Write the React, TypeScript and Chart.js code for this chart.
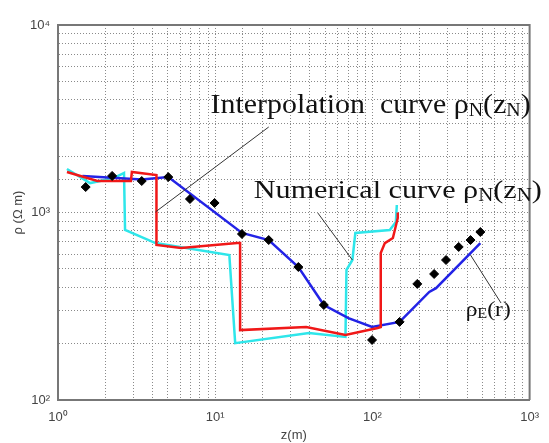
import React, { useEffect, useRef } from 'react';
import { Chart, registerables } from 'chart.js';

Chart.register(...registerables);

// ---- data (z in m, rho in Ohm m) ----
const numericalX = [1.14, 1.6, 2.27, 2.63, 2.67, 4.17, 12.3, 13.4, 39.5, 67.4, 68.4, 74.6, 77.9, 129, 141, 143];
const numericalY = [1706, 1435, 1528, 1626, 807, 687, 593, 201, 228, 217, 494, 558, 778, 807, 889, 1097];

const interpX = [1.14, 1.78, 2.91, 2.95, 4.23, 4.23, 6.07, 13.8, 14.4, 14.4, 37.9, 67.4, 108, 113, 113, 120, 135, 145, 145];
const interpY = [1644, 1472, 1472, 1644, 1585, 671, 647, 687, 687, 236, 245, 222, 242, 245, 608, 687, 731, 935, 1000];

const apparentX = [1.43, 3.41, 5.03, 14.8, 21.9, 33.8, 49.1, 70.4, 99.5, 149, 230, 254, 486];
const apparentY = [1567, 1500, 1545, 778, 713, 512, 321, 273, 245, 261, 377, 395, 687];

const measuredX = [1.5, 2.21, 3.41, 5.03, 6.91, 9.91, 14.8, 21.9, 33.8, 49.1, 99.5, 149, 193, 247, 294, 354, 421, 486];
const measuredY = [1367, 1567, 1472, 1545, 1180, 1124, 768, 713, 512, 321, 209, 261, 416, 470, 558, 655, 713, 787];

const xTickPowers = [0, 1, 2, 3];
const yTickPowers = [2, 3, 4];

// annotation labels (anchored in data coordinates)
const labelTexts = [
  { parts: [['Interpolation  curve ρ', 0], ['N', 1], ['(z', 0], ['N', 1], [')', 0]], x: 9.35, y: 3396, size: 27, width: 320 },
  { parts: [['Numerical curve ρ', 0], ['N', 1], ['(z', 0], ['N', 1], [')', 0]], x: 17.6, y: 1194, size: 26, width: 288 },
  { parts: [['ρ', 0], ['E', 1], ['(r)', 0]], x: 392, y: 281, size: 20, width: 45 },
];
const pointerLines = [
  { x1: 4.17, y1: 1007, x2: 21.9, y2: 2858 },
  { x1: 45, y1: 993, x2: 74.6, y2: 558 },
  { x1: 421, y1: 593, x2: 658, y2: 329 },
];

const SUP: Record<string, string> = { '0': '⁰', '1': '¹', '2': '²', '3': '³', '4': '⁴' };
const zip = (xs: number[], ys: number[]) => xs.map((x, i) => ({ x, y: ys[i] }));
const tickLabel = (powers: number[]) => (v: any) => {
  const l = Math.log10(Number(v));
  const r = Math.round(l);
  return Math.abs(l - r) < 1e-9 && powers.includes(r) ? '10' + SUP[String(r)] : '';
};

const annotationPlugin = {
  id: 'annots',
  afterDatasetsDraw(chart: any) {
    const { ctx, chartArea: a, scales } = chart;
    const xs = scales.x, ys = scales.y;
    ctx.save();
    // box top/right
    ctx.strokeStyle = '#777';
    ctx.lineWidth = 2;
    ctx.beginPath();
    ctx.moveTo(a.left, a.top);
    ctx.lineTo(a.right, a.top);
    ctx.lineTo(a.right, a.bottom);
    ctx.stroke();
    // pointer lines
    ctx.strokeStyle = '#333';
    ctx.lineWidth = 1;
    for (const p of pointerLines) {
      ctx.beginPath();
      ctx.moveTo(xs.getPixelForValue(p.x1), ys.getPixelForValue(p.y1));
      ctx.lineTo(xs.getPixelForValue(p.x2), ys.getPixelForValue(p.y2));
      ctx.stroke();
    }
    // texts
    ctx.fillStyle = '#111';
    ctx.textBaseline = 'alphabetic';
    ctx.textAlign = 'left';
    for (const t of labelTexts) {
      const main = `${t.size}px "Liberation Serif", "Times New Roman", serif`;
      const sub = `${Math.round(t.size * 0.68)}px "Liberation Serif", "Times New Roman", serif`;
      let natural = 0;
      for (const [s, isSub] of t.parts as any) {
        ctx.font = isSub ? sub : main;
        natural += ctx.measureText(s).width;
      }
      const stretch = t.width / natural;
      const px = xs.getPixelForValue(t.x);
      const py = ys.getPixelForValue(t.y);
      ctx.save();
      ctx.translate(px, py);
      ctx.scale(stretch, 1);
      let cx = 0;
      for (const [s, isSub] of t.parts as any) {
        ctx.font = isSub ? sub : main;
        ctx.fillText(s, cx, isSub ? t.size * 0.1 : 0);
        cx += ctx.measureText(s).width;
      }
      ctx.restore();
    }
    ctx.restore();
  },
};

export default function App() {
  const ref = useRef<HTMLCanvasElement | null>(null);
  useEffect(() => {
    if (!ref.current) return;
    const gridOpts = { color: '#8a8a8a', lineWidth: 1, drawTicks: false };
    const borderOpts = { display: true, color: '#777', width: 2, dash: [1, 2] };
    const tickFont = { family: '"Liberation Sans", Arial, sans-serif', size: 13 };
    const titleFont = { family: '"Liberation Sans", Arial, sans-serif', size: 13 };
    const chart = new Chart(ref.current, {
      type: 'scatter',
      data: {
        datasets: [
          {
            label: 'measured',
            data: zip(measuredX, measuredY),
            showLine: false,
            pointStyle: 'rectRot',
            pointRadius: 4.5,
            backgroundColor: '#000',
            borderColor: '#000',
            order: 0,
          },
          {
            label: 'interpolation',
            data: zip(interpX, interpY),
            showLine: true,
            borderColor: '#f01818',
            borderWidth: 2.5,
            pointRadius: 0,
            order: 1,
          },
          {
            label: 'apparent',
            data: zip(apparentX, apparentY),
            showLine: true,
            borderColor: '#2323e6',
            borderWidth: 2.5,
            pointRadius: 0,
            order: 2,
          },
          {
            label: 'numerical',
            data: zip(numericalX, numericalY),
            showLine: true,
            borderColor: '#2ee6ea',
            borderWidth: 2.5,
            pointRadius: 0,
            order: 3,
          },
        ],
      },
      options: {
        animation: false,
        responsive: true,
        maintainAspectRatio: false,
        layout: { padding: { top: 25, right: 12, left: 0, bottom: 0 } },
        plugins: { legend: { display: false }, tooltip: { enabled: false } },
        scales: {
          x: {
            type: 'logarithmic',
            min: 1,
            max: 1000,
            grid: gridOpts,
            border: borderOpts,
            ticks: {
              autoSkip: false,
              maxRotation: 0,
              padding: 10,
              color: '#444',
              font: tickFont,
              callback: tickLabel(xTickPowers),
            },
            title: {
              display: true,
              text: 'z(m)',
              color: '#444',
              font: titleFont,
              padding: { top: 0, bottom: 0 },
            },
            afterFit: (s: any) => {
              s.height = 43;
            },
          },
          y: {
            type: 'logarithmic',
            min: 100,
            max: 10000,
            grid: gridOpts,
            border: borderOpts,
            ticks: {
              autoSkip: false,
              padding: 8,
              color: '#444',
              font: tickFont,
              callback: tickLabel(yTickPowers),
            },
            title: {
              display: true,
              text: 'ρ (Ω m)',
              color: '#444',
              font: titleFont,
              padding: { top: 11, bottom: 0 },
            },
            afterFit: (s: any) => {
              s.width = 58;
            },
          },
        },
      } as any,
      plugins: [annotationPlugin],
    });
    return () => chart.destroy();
  }, []);
  return (
    <div style={{ position: 'fixed', left: 0, top: 0, width: 549, height: 443, background: '#fff' }}>
      <canvas ref={ref} />
    </div>
  );
}
